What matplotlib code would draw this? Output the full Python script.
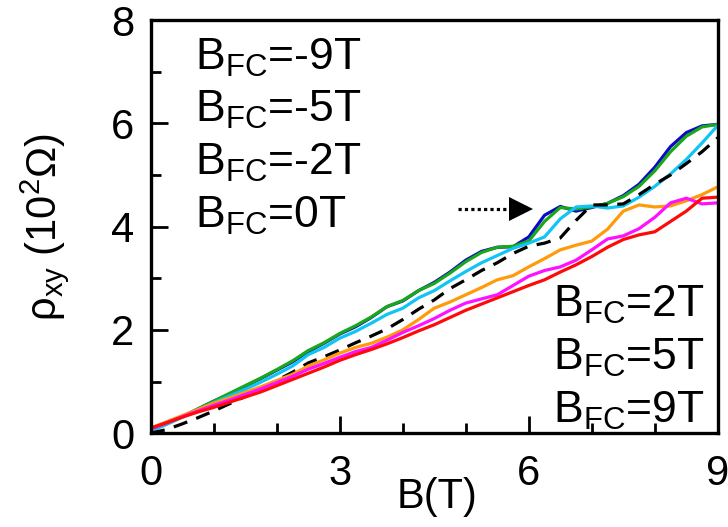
import numpy as np
import matplotlib
matplotlib.use("Agg")
import matplotlib.pyplot as plt

plt.rcParams['font.family'] = ['Liberation Sans', 'DejaVu Sans']
plt.rcParams['mathtext.fontset'] = 'custom'
plt.rcParams['mathtext.rm'] = 'Liberation Sans'
plt.rcParams['mathtext.it'] = 'Liberation Sans:italic'
plt.rcParams['mathtext.bf'] = 'Liberation Sans:bold'

# field values (T), 0.25 T steps
B = [0, 0.25, 0.5, 0.75, 1.0, 1.25, 1.5, 1.75, 2.0, 2.25, 2.5, 2.75, 3.0,
     3.25, 3.5, 3.75, 4.0, 4.25, 4.5, 4.75, 5.0, 5.25, 5.5, 5.75, 6.0,
     6.25, 6.5, 6.75, 7.0, 7.25, 7.5, 7.75, 8.0, 8.25, 8.5, 8.75, 9.0]

# rho_xy (10^2 Ohm)
rho_m9 = [0.05, 0.18, 0.32, 0.47, 0.62, 0.76, 0.91, 1.06, 1.22, 1.38, 1.58, 1.74, 1.92,
          2.06, 2.24, 2.45, 2.56, 2.76, 2.92, 3.12, 3.35, 3.52, 3.60, 3.61, 3.80,
          4.22, 4.39, 4.30, 4.37, 4.45, 4.60, 4.82, 5.15, 5.55, 5.82, 5.95, 5.98]
rho_m5 = [0.05, 0.18, 0.32, 0.47, 0.62, 0.77, 0.92, 1.07, 1.23, 1.40, 1.60, 1.75, 1.93,
          2.08, 2.25, 2.45, 2.57, 2.76, 2.90, 3.10, 3.32, 3.50, 3.60, 3.62, 3.72,
          4.10, 4.37, 4.34, 4.38, 4.45, 4.58, 4.78, 5.08, 5.45, 5.75, 5.93, 5.98]
rho_m2 = [0.04, 0.17, 0.31, 0.45, 0.59, 0.72, 0.85, 0.99, 1.14, 1.30, 1.52, 1.66, 1.84,
          1.97, 2.13, 2.30, 2.42, 2.62, 2.76, 2.95, 3.13, 3.30, 3.44, 3.58, 3.68,
          3.80, 4.15, 4.38, 4.40, 4.36, 4.40, 4.57, 4.78, 5.02, 5.30, 5.62, 5.96]
rho_0 = [0.00, 0.07, 0.18, 0.30, 0.43, 0.57, 0.71, 0.86, 1.02, 1.18, 1.36, 1.48, 1.61,
         1.75, 1.88, 2.02, 2.20, 2.40, 2.58, 2.80, 2.97, 3.15, 3.30, 3.48, 3.62,
         3.68, 3.78, 4.12, 4.42, 4.42, 4.44, 4.62, 4.82, 5.00, 5.22, 5.45, 5.72]
rho_p2 = [0.10, 0.22, 0.34, 0.46, 0.58, 0.68, 0.79, 0.90, 1.02, 1.14, 1.30, 1.42, 1.55,
          1.66, 1.74, 1.86, 2.00, 2.20, 2.42, 2.54, 2.68, 2.82, 2.97, 3.05, 3.22,
          3.38, 3.55, 3.64, 3.72, 3.95, 4.30, 4.42, 4.38, 4.40, 4.50, 4.62, 4.77]
rho_p5 = [0.08, 0.20, 0.32, 0.43, 0.54, 0.64, 0.75, 0.86, 0.98, 1.10, 1.24, 1.35, 1.47,
          1.58, 1.66, 1.80, 1.95, 2.08, 2.22, 2.38, 2.52, 2.60, 2.68, 2.86, 3.04,
          3.15, 3.22, 3.35, 3.55, 3.76, 3.82, 3.96, 4.18, 4.46, 4.55, 4.44, 4.46]
rho_p9 = [0.10, 0.20, 0.31, 0.41, 0.50, 0.60, 0.70, 0.80, 0.92, 1.04, 1.16, 1.28, 1.41,
          1.52, 1.62, 1.73, 1.85, 1.98, 2.10, 2.24, 2.38, 2.50, 2.62, 2.74, 2.86,
          2.97, 3.12, 3.26, 3.42, 3.60, 3.75, 3.84, 3.90, 4.10, 4.30, 4.55, 4.57]

labels_neg = ['-9', '-5', '-2', '0']
labels_pos = ['2', '5', '9']

# arrow pointing at the step (data coords)
arrow_x = [4.87, 5.65]
arrow_tip = 5.88
arrow_y = 4.34

fig = plt.figure(figsize=(7.28, 5.27), dpi=100)
ax = fig.add_axes([0.207, 0.178, 0.779, 0.784])

lw = 2.3
kw = dict(lw=lw, solid_joinstyle='round', solid_capstyle='round')
ax.plot(B, rho_m9, color='#0a0ac8', **kw)
ax.plot(B, rho_m5, color='#1aa81a', **kw)
ax.plot(B, rho_m2, color='#10c4f4', **kw)
ax.plot(B, rho_0, color='black', lw=lw, ls=(0, (4.5, 3)))
ax.plot(B, rho_p2, color='#ff9a0a', **kw)
ax.plot(B, rho_p5, color='#ff10ff', **kw)
ax.plot(B, rho_p9, color='#ff0a0a', **kw)

ax.plot(arrow_x, [arrow_y, arrow_y], color='black', lw=2.3, ls=(0, (1, 1)))
ax.plot(arrow_tip, arrow_y, marker='>', color='black', ms=17, mew=0)

ax.set_xlim(0, 9)
ax.set_ylim(0, 8)
ax.set_xticks([0, 3, 6, 9])
ax.set_xticks(np.arange(0, 10), minor=True)
ax.set_yticks([0, 2, 4, 6, 8])
ax.set_yticks([1, 3, 5, 7], minor=True)
ax.tick_params(which='both', direction='in', width=2, labelsize=30)
ax.tick_params(which='major', length=12)
ax.tick_params(which='minor', length=7)
ax.tick_params(axis='x', pad=15)
ax.tick_params(axis='y', pad=12)
for s in ax.spines.values():
    s.set_linewidth(2.4)

ax.set_xlabel('B(T)', fontsize=30)
ax.xaxis.set_label_coords(0.505, -0.105)
ax.set_ylabel(r'ρ$_{\mathrm{xy}}$ (10$^{2}$Ω)', fontsize=30)
ax.yaxis.set_label_coords(-0.14, 0.5)

ys_neg = [0.879, 0.753, 0.625, 0.496]
for lab, yy in zip(labels_neg, ys_neg):
    ax.text(0.078, yy, r'B$_{\mathrm{FC}}$=' + lab + 'T', transform=ax.transAxes,
            fontsize=32, va='baseline', ha='left')
ys_pos = [0.281, 0.153, 0.024]
for lab, yy in zip(labels_pos, ys_pos):
    ax.text(0.977, yy, r'B$_{\mathrm{FC}}$=' + lab + 'T', transform=ax.transAxes,
            fontsize=32, va='baseline', ha='right')

fig.savefig('out.png', dpi=100)
